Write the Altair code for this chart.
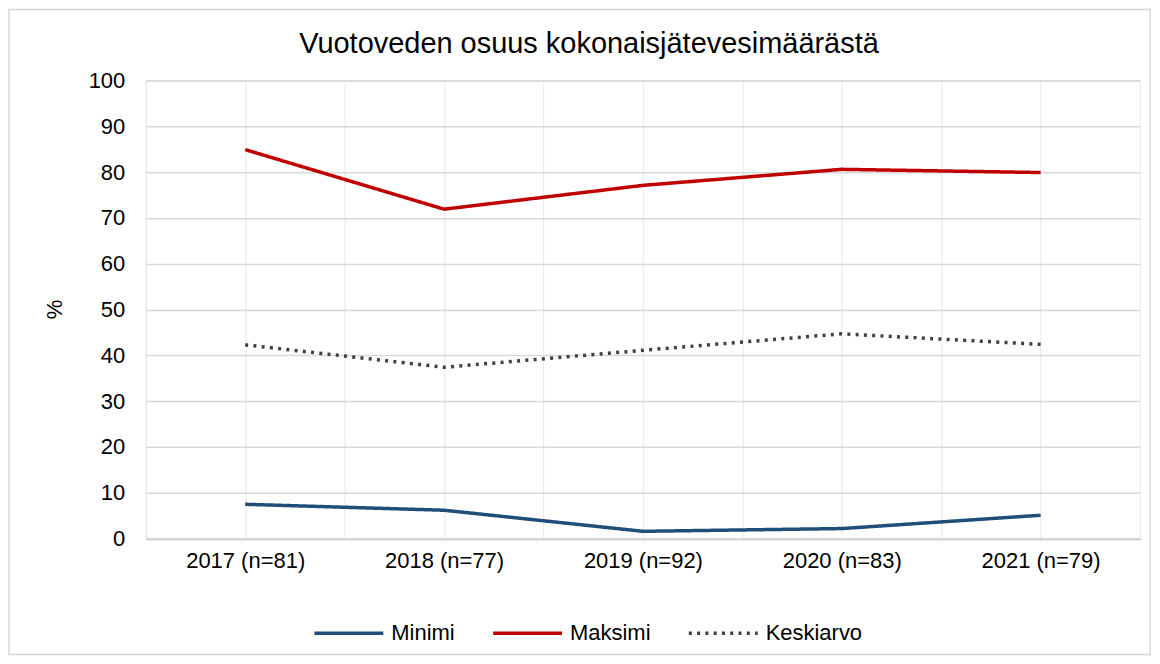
import altair as alt
import pandas as pd

title_text = "Vuotoveden osuus kokonaisjätevesimäärästä"
categories = ["2017 (n=81)", "2018 (n=77)", "2019 (n=92)", "2020 (n=83)", "2021 (n=79)"]
series_names = ["Minimi", "Maksimi", "Keskiarvo"]
minimi = [7.5, 6.2, 1.6, 2.2, 5.1]
maksimi = [84.9, 71.9, 77.1, 80.6, 79.9]
keskiarvo = [42.3, 37.4, 41.1, 44.7, 42.4]
colors = ["#1f4e79", "#c00000", "#404040"]
dashes = [[1, 0], [1, 0], [3, 5.3]]

rows = []
for name, vals in zip(series_names, [minimi, maksimi, keskiarvo]):
    for i, (c, v) in enumerate(zip(categories, vals)):
        rows.append({"idx": i, "vuosi": c, "sarja": name, "arvo": v})
df = pd.DataFrame(rows)

FONT = "Liberation Sans"
W, H = 996, 459

label_js = "[" + ",".join("'" + c + "'" for c in categories) + "]"
x_vals = [i * 0.5 - 0.5 for i in range(11)]

legend_cfg = dict(title=None, orient="none", direction="horizontal",
                  legendX=167, legendY=517, columns=3,
                  symbolType="stroke", symbolSize=4761, symbolStrokeWidth=3.5,
                  labelFont=FONT, labelFontSize=22, labelColor="#000000",
                  labelOffset=6, columnPadding=31)

lines = alt.Chart(df).mark_line(strokeWidth=3.5, strokeCap="butt", strokeJoin="round").encode(
    x=alt.X("idx:Q",
            scale=alt.Scale(domain=[-0.5, 4.5], nice=False, zero=False),
            axis=alt.Axis(values=x_vals,
                          labelExpr="datum.value % 1 == 0 ? " + label_js + "[datum.value] : ''",
                          title=None, ticks=False, grid=True, gridColor="#ececec", gridWidth=1.2,
                          domainColor="#d4d4d4", domainWidth=2.5,
                          labelFont=FONT, labelFontSize=22, labelColor="#000000",
                          labelPadding=12, labelOverlap=False, labelFlush=False)),
    y=alt.Y("arvo:Q",
            scale=alt.Scale(domain=[0, 100], nice=False),
            axis=alt.Axis(values=list(range(0, 101, 10)), title="%",
                          domain=False, ticks=False, grid=True, gridColor="#d9d9d9", gridWidth=1.5,
                          labelFont=FONT, labelFontSize=22, labelColor="#000000", labelPadding=21,
                          titleFont=FONT, titleFontSize=22, titleFontWeight="normal",
                          titleColor="#000000", titleX=-91, titleY=229, titleBaseline="middle")),
    color=alt.Color("sarja:N",
                    scale=alt.Scale(domain=series_names, range=colors),
                    sort=series_names,
                    legend=alt.Legend(**legend_cfg)),
    strokeDash=alt.StrokeDash("sarja:N",
                              scale=alt.Scale(domain=series_names, range=dashes),
                              sort=series_names,
                              legend=alt.Legend(**legend_cfg)),
)

frame = alt.Chart(pd.DataFrame({"k": [0]})).mark_rect(
    fill=None, stroke="#d9d9d9", strokeWidth=1.5, clip=False
).encode(x=alt.value(-137), x2=alt.value(1006), y=alt.value(-71), y2=alt.value(575))

title = alt.Chart(pd.DataFrame({"t": [title_text]})).mark_text(
    font=FONT, fontSize=29, color="#000000", align="center", baseline="alphabetic"
).encode(x=alt.value(444), y=alt.value(-27), text="t:N")

chart = alt.layer(frame, lines, title).properties(
    width=W, height=H,
    autosize=alt.AutoSizeParams(type="none"),
    padding={"left": 138, "top": 72, "right": 12, "bottom": 117},
).configure_view(stroke=None).configure(background="white")

chart.save("out.html", embed_options={"renderer": "svg", "actions": False})
